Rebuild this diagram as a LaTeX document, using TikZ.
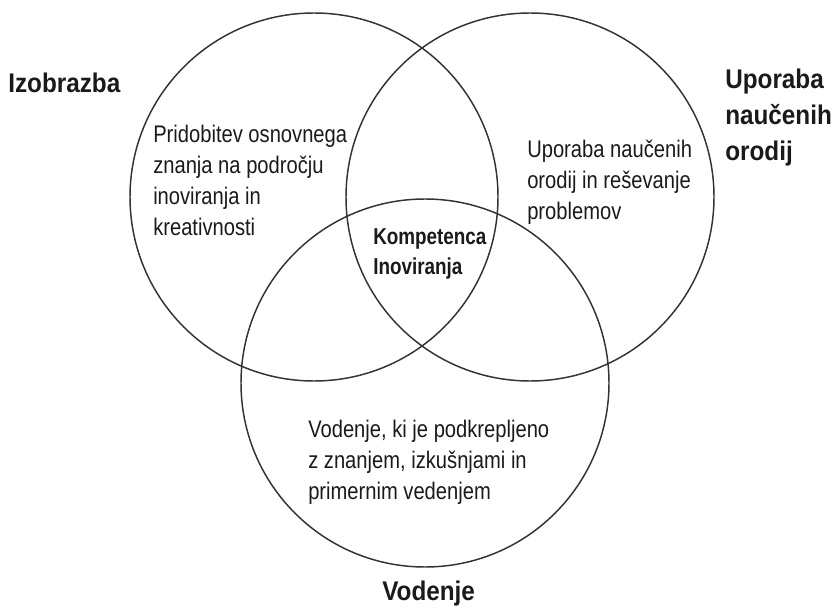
\documentclass[tikz,border=0pt]{standalone}
\usepackage{fontspec}
\newfontfamily\bodyfont[FakeStretch=0.84]{Liberation Sans}
\newfontfamily\labelfont[FakeStretch=0.9]{Liberation Sans}
\newfontfamily\corefont[FakeStretch=0.82]{Liberation Sans}
\definecolor{ink}{HTML}{1A1A1A}
\definecolor{rim}{HTML}{333333}
\begin{document}
\begin{tikzpicture}[x=0.75pt,y=-0.75pt,
  ring/.style={draw=rim,line width=1.1pt},
  body/.style={inner sep=0pt,anchor=north west,align=left,text=ink,
    font=\bodyfont\fontsize{18}{23.25}\selectfont},
  heading/.style={inner sep=0pt,text=ink,align=left,
    font=\labelfont\bfseries\fontsize{20.25}{27}\selectfont},
  core/.style={inner sep=0pt,anchor=north west,align=left,text=ink,
    font=\corefont\bfseries\fontsize{17.25}{22.5}\selectfont}]
\path[use as bounding box] (0,0) rectangle (836,610);

% the three sets
\draw[ring] (314,197) circle (184);
\draw[ring] (530,197) circle (184);
\draw[ring] (425,383) circle (184);

% set names
\node[heading,anchor=base west] (izo) at (8,93) {Izobrazba};
\node[heading,anchor=north west] (upo) at (725,68.3) {Uporaba\\naučenih\\orodij};
\node[heading,anchor=base west] (vod) at (382,600) {Vodenje};

% descriptions inside the sets
\node[body] (txtL) at (153,124.5) {Pridobitev osnovnega\\znanja na področju\\inoviranja in\\kreativnosti};
\node[body] (txtR) at (527,139.5) {Uporaba naučenih\\orodij in reševanje\\problemov};
\node[body] (txtB) at (308,419.5) {Vodenje, ki je podkrepljeno\\z znanjem, izkušnjami in\\primernim vedenjem};

% common intersection
\node[core] (comp) at (373,228) {Kompetenca\\Inoviranja};
\end{tikzpicture}
\end{document}
